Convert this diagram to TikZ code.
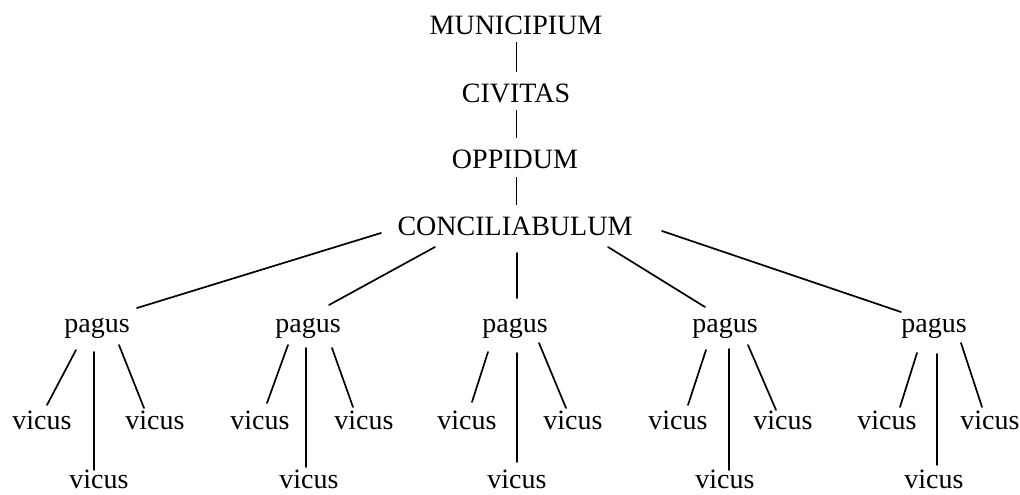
\documentclass[tikz,border=0pt]{standalone}
\usepackage{fontspec}
\setmainfont{Liberation Serif}
\begin{document}
\begin{tikzpicture}[x=1pt,y=-1pt,
  lbl/.style={anchor=base,inner sep=0pt,font=\fontsize{28}{30}\selectfont},
  thin link/.style={line width=0.8pt},
  link/.style={line width=1.7pt,line cap=round}]
\useasboundingbox (0,0) rectangle (1020,495);
% upper chain
\node[lbl] (M)  at (516,35)  {MUNICIPIUM};
\node[lbl] (CV) at (516,102) {CIVITAS};
\node[lbl] (O)  at (515,168) {OPPIDUM};
\node[lbl] (C)  at (515,235) {CONCILIABULUM};
% pagi
\node[lbl] (p1) at (97,332)  {pagus};
\node[lbl] (p2) at (308,332) {pagus};
\node[lbl] (p3) at (515,332) {pagus};
\node[lbl] (p4) at (725,332) {pagus};
\node[lbl] (p5) at (934,332) {pagus};
% vici
\node[lbl] (vl1) at (42,429)  {vicus};
\node[lbl] (vr1) at (155,429) {vicus};
\node[lbl] (vb1) at (99,488)  {vicus};
\node[lbl] (vl2) at (260,429) {vicus};
\node[lbl] (vr2) at (364,429) {vicus};
\node[lbl] (vb2) at (309,488) {vicus};
\node[lbl] (vl3) at (467,429) {vicus};
\node[lbl] (vr3) at (573,429) {vicus};
\node[lbl] (vb3) at (517,488) {vicus};
\node[lbl] (vl4) at (678,429) {vicus};
\node[lbl] (vr4) at (783,429) {vicus};
\node[lbl] (vb4) at (725,488) {vicus};
\node[lbl] (vl5) at (887,429) {vicus};
\node[lbl] (vr5) at (990,429) {vicus};
\node[lbl] (vb5) at (934,488) {vicus};
% chain links
\draw[thin link] ([shift={(0,7)}]M.base) -- ([shift={(0,-30)}]CV.base);
\draw[thin link] ([shift={(0,8)}]CV.base) -- ([shift={(1,-30)}]O.base);
\draw[thin link] ([shift={(1,9)}]O.base) -- ([shift={(1,-30)}]C.base);
% conciliabulum to pagi
\draw[link] ([shift={(-134,-2)}]C.base) -- ([shift={(40,-24)}]p1.base);
\draw[link] ([shift={(-80,12)}]C.base) -- ([shift={(21,-27)}]p2.base);
\draw[link] ([shift={(2,18)}]C.base) -- ([shift={(2,-34)}]p3.base);
\draw[link] ([shift={(93,12)}]C.base) -- ([shift={(-20,-25)}]p4.base);
\draw[link] ([shift={(147,-4)}]C.base) -- ([shift={(-33,-20)}]p5.base);
% pagus 1
\draw[link] ([shift={(-21,18)}]p1.base) -- ([shift={(5,-24)}]vl1.base);
\draw[link] ([shift={(-3,20)}]p1.base) -- ([shift={(-5,-18)}]vb1.base);
\draw[link] ([shift={(22,13)}]p1.base) -- ([shift={(-11,-21)}]vr1.base);
% pagus 2
\draw[link] ([shift={(-20,13)}]p2.base) -- ([shift={(7,-26)}]vl2.base);
\draw[link] ([shift={(-2,16)}]p2.base) -- ([shift={(-3,-21)}]vb2.base);
\draw[link] ([shift={(24,16)}]p2.base) -- ([shift={(-11,-22)}]vr2.base);
% pagus 3
\draw[link] ([shift={(-27,20)}]p3.base) -- ([shift={(5,-27)}]vl3.base);
\draw[link] ([shift={(2,21)}]p3.base) -- ([shift={(0,-26)}]vb3.base);
\draw[link] ([shift={(24,11)}]p3.base) -- ([shift={(-7,-21)}]vr3.base);
% pagus 4
\draw[link] ([shift={(-19,18)}]p4.base) -- ([shift={(10,-24)}]vl4.base);
\draw[link] ([shift={(4,17)}]p4.base) -- ([shift={(4,-18)}]vb4.base);
\draw[link] ([shift={(23,13)}]p4.base) -- ([shift={(-7,-19)}]vr4.base);
% pagus 5
\draw[link] ([shift={(-17,21)}]p5.base) -- ([shift={(13,-22)}]vl5.base);
\draw[link] ([shift={(3,22)}]p5.base) -- ([shift={(3,-23)}]vb5.base);
\draw[link] ([shift={(27,11)}]p5.base) -- ([shift={(-8,-22)}]vr5.base);
\end{tikzpicture}
\end{document}
